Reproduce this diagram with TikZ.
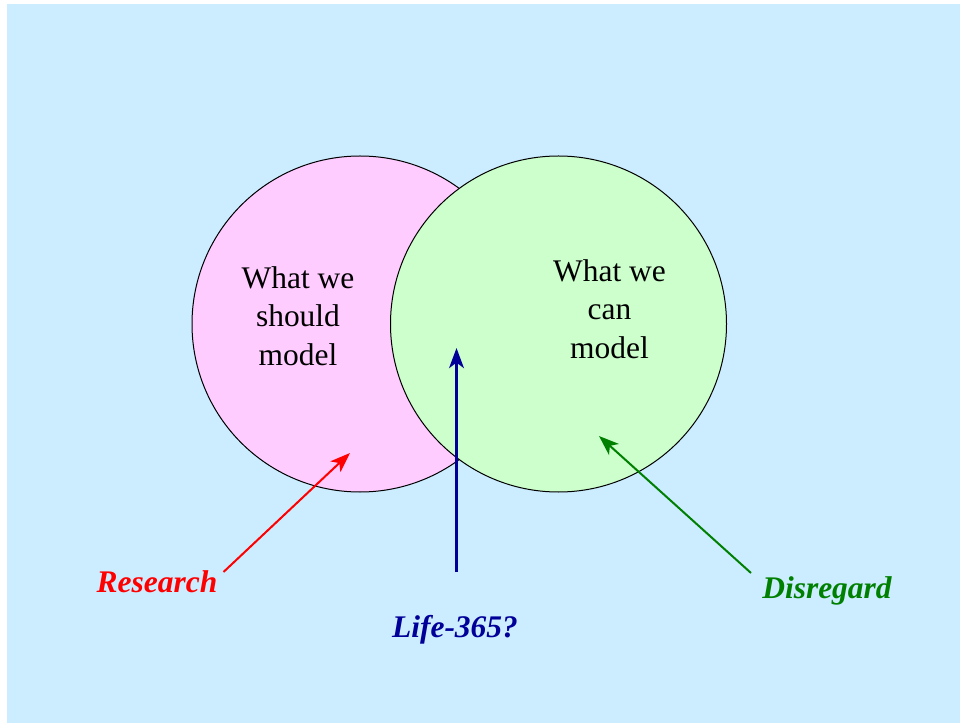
\documentclass[tikz,border=0pt]{standalone}
\usepackage{fontspec}
\setmainfont{Liberation Serif}
\usetikzlibrary{arrows.meta}
\definecolor{bgblue}{RGB}{204,236,255}
\definecolor{pinkfill}{RGB}{255,204,255}
\definecolor{greenfill}{RGB}{204,255,204}
\definecolor{navyarrow}{RGB}{0,0,153}
\definecolor{darkgreen}{RGB}{0,128,0}
\tikzset{
  setcircle/.style={circle, draw=black, line width=0.75pt, minimum size=252pt, inner sep=0pt},
  bodytext/.style={align=center, font=\fontsize{23.6}{28.7}\selectfont, inner sep=0pt},
  labeltext/.style={anchor=base, font=\fontsize{23.6}{28.7}\selectfont\bfseries\itshape, inner sep=0pt},
  arr/.style={-{Stealth[length=15pt, width=11pt, inset=4pt]}},
}
\begin{document}
\begin{tikzpicture}[x=0.75pt, y=-0.75pt]
\useasboundingbox (0,0) rectangle (960,723);
\fill[bgblue] (7,4) rectangle (960,723);
\node[setcircle, fill=pinkfill] (should) at (360,324) {};
\node[setcircle, fill=greenfill] (can) at (558.5,324) {};
\node[bodytext] (shouldtxt) at (298,316) {What we\\should\\model};
\node[bodytext] (cantxt) at (609.5,309) {What we\\can\\model};
\node[labeltext, text=red] (research) at (157,592) {Research};
\node[labeltext, text=navyarrow] (life) at (455,637) {Life-365?};
\node[labeltext, text=darkgreen] (disregard) at (827,598) {Disregard};
\coordinate (rs) at (223.5,572);
\coordinate (re) at (350,453);
\coordinate (ls) at (456.5,572);
\coordinate (le) at (456.5,348);
\coordinate (ds) at (751,573);
\coordinate (de) at (599,436);
\draw[arr, red, line width=1.5pt] (rs) -- (re);
\draw[arr, navyarrow, line width=2.4pt] (ls) -- (le);
\draw[arr, darkgreen, line width=1.5pt] (ds) -- (de);
\end{tikzpicture}
\end{document}
